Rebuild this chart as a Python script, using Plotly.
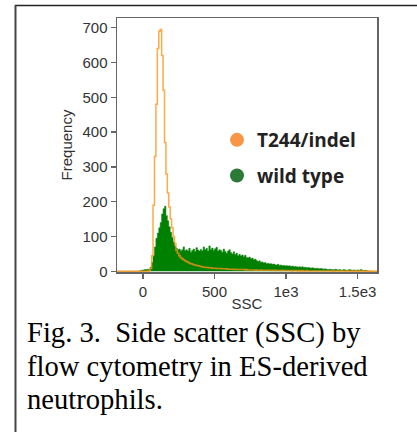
import plotly.graph_objects as go

# ---- data: histogram counts, bins of width 10 starting at -200 ----
BIN_START = -200
BIN_WIDTH = 10

t244_indel = [
    0, 0, 0, 0, 0, 0, 0, 0, 0, 0,            # -200..-110
    0, 0, 0, 0, 0, 0, 0, 0, 0, 0,            # -100..-10
    0, 0, 0, 1, 2, 8, 45, 190, 330, 480,     # 0..90
    640, 690, 695, 620, 520, 370, 280, 225, 185, 150,   # 100..190
    125, 100, 80, 60, 52, 45, 40, 36, 33, 30,           # 200..290
    28, 26, 24, 22, 21, 19, 18, 17, 16, 15,             # 300..390
    14, 13, 12, 12, 11, 11, 10, 10, 9, 9,               # 400..490
    9, 8, 8, 8, 8, 7, 7, 7, 7, 6,                       # 500..590
    6, 6, 6, 5, 6, 5, 5, 5, 5, 5,                       # 600..690
    5, 4, 5, 4, 4, 4, 4, 4, 3, 4,                       # 700..790
    3, 3, 4, 3, 3, 3, 3, 3, 3, 2,                       # 800..890
    3, 2, 3, 2, 2, 2, 2, 3, 2, 2,                       # 900..990
    2, 2, 2, 2, 1, 2, 2, 2, 1, 2,                       # 1000..1090
    1, 2, 1, 1, 2, 1, 1, 1, 1, 1,                       # 1100..1190
    1, 1, 1, 1, 1, 1, 1, 1, 1, 1,                       # 1200..1290
    1, 1, 1, 0, 1, 1, 1, 0, 1, 1,                       # 1300..1390
    1, 0, 1, 1, 0, 1, 0, 1, 0, 1,                       # 1400..1490
    0, 1, 0, 1, 0, 0, 1, 0, 0, 1,                       # 1500..1590
    0, 0, 0, 0, 0, 0, 0, 0, 0, 0,                       # 1600..1690
]

wild_type = [
    0, 0, 0, 0, 0, 0, 0, 0, 0, 0,            # -200..-110
    0, 0, 0, 0, 0, 0, 0, 1, 2, 3,            # -100..-10
    4, 5, 5, 6, 6, 12, 25, 45, 70, 95,       # 0..90
    110, 125, 140, 165, 180, 187, 160, 145, 128, 112,   # 100..190
    97, 84, 72, 66, 62, 64, 58, 62, 70, 60,             # 200..290
    62, 58, 66, 55, 60, 64, 57, 68, 61, 58,             # 300..390
    63, 59, 70, 62, 66, 58, 73, 62, 67, 60,             # 400..490
    65, 69, 58, 62, 60, 55, 64, 57, 52, 58,             # 500..590
    62, 54, 50, 56, 48, 52, 45, 49, 44, 47,             # 600..690
    42, 46, 40, 38, 41, 36, 38, 33, 35, 31,             # 700..790
    28, 30, 26, 27, 24, 25, 22, 23, 21, 22,             # 800..890
    20, 21, 19, 18, 20, 17, 18, 16, 17, 16,             # 900..990
    16, 15, 16, 14, 15, 13, 14, 13, 12, 13,             # 1000..1090
    12, 13, 11, 12, 10, 11, 10, 9, 10, 9,               # 1100..1190
    8, 9, 8, 7, 8, 7, 6, 7, 6, 5,                       # 1200..1290
    6, 5, 5, 4, 6, 5, 4, 5, 3, 4,                       # 1300..1390
    5, 4, 3, 4, 5, 4, 3, 4, 3, 3,                       # 1400..1490
    4, 3, 5, 3, 2, 3, 2, 1, 1, 0,                       # 1500..1590
    0, 0, 0, 0, 0, 0, 0, 0, 0, 0,                       # 1600..1690
]

series_names = ["T244/indel", "wild type"]
x_tick_values = [0, 500, 1000, 1500]
x_tick_labels = ["0", "500", "1e3", "1.5e3"]
y_tick_values = [0, 100, 200, 300, 400, 500, 600, 700]
caption_lines = [
    "Fig. 3.\u00a0 Side scatter (SSC) by",
    "flow cytometry in ES-derived",
    "neutrophils.",
]

bin_centers = [BIN_START + BIN_WIDTH * (i + 0.5) for i in range(len(wild_type))]

# ---- layout helpers (pixel -> paper) ----
W, H = 417, 432
ML, MR, MT, MB = 117, 40, 18, 160
PW, PH = W - ML - MR, H - MT - MB


def px_x(px):
    return (px - ML) / PW


def px_y(py):
    return (H - MB - py) / PH


fig = go.Figure()

fig.add_trace(go.Scatter(
    x=bin_centers, y=wild_type, mode="lines", line_shape="hvh",
    line=dict(color="#008000", width=0.5), fill="tozeroy", fillcolor="#008000",
    showlegend=False, hoverinfo="skip"))

fig.add_trace(go.Scatter(
    x=bin_centers, y=t244_indel, mode="lines", line_shape="hvh",
    line=dict(color="rgba(255,145,20,0.78)", width=1.5),
    showlegend=False, hoverinfo="skip"))

# legend entries
fig.add_trace(go.Scatter(
    x=[None], y=[None], mode="markers", name="<b>%s</b>" % series_names[0],
    legendgroup="a", marker=dict(color="#F79646", size=14, symbol="circle")))
fig.add_trace(go.Scatter(
    x=[None], y=[None], mode="markers", name="<b>%s</b>" % series_names[1],
    legendgroup="b", marker=dict(color="#2B7A37", size=14, symbol="circle")))

axis_line = "#666666"
tick_font = dict(family="Liberation Sans, Arial, sans-serif", size=15, color="#333333")

fig.update_xaxes(
    range=[-182, 1636], showgrid=False, zeroline=False,
    showline=True, mirror=True, linecolor=axis_line, linewidth=1.5,
    ticks="outside", ticklen=5, tickwidth=1.5, tickcolor=axis_line,
    tickvals=x_tick_values, ticktext=x_tick_labels, tickfont=tick_font,
    title=dict(text="SSC", font=tick_font, standoff=0))
fig.update_yaxes(
    range=[-2, 728], showgrid=False, zeroline=False,
    showline=True, mirror=True, linecolor=axis_line, linewidth=1.5,
    ticks="outside", ticklen=5, tickwidth=1.5, tickcolor=axis_line,
    tickvals=y_tick_values, tickfont=tick_font,
    title=dict(text="Frequency", font=tick_font, standoff=6))

shapes = [
    dict(type="line", xref="paper", yref="paper", x0=px_x(15), x1=px_x(430),
         y0=px_y(5.5), y1=px_y(5.5), line=dict(color="#222222", width=1.5)),
    dict(type="line", xref="paper", yref="paper", x0=px_x(15.5), x1=px_x(15.5),
         y0=px_y(5), y1=px_y(440), line=dict(color="#444444", width=2)),
]

annotations = []
baselines = [342, 375, 408]
for text, base in zip(caption_lines, baselines):
    annotations.append(dict(
        text=text, xref="paper", yref="paper", x=px_x(25), y=px_y(base - 9),
        xanchor="left", yanchor="middle", showarrow=False,
        font=dict(family="Liberation Serif, Times New Roman, serif", size=28.6, color="#000000")))

fig.update_layout(
    width=W, height=H,
    margin=dict(l=ML, r=MR, t=MT, b=MB, pad=0),
    paper_bgcolor="white", plot_bgcolor="white",
    shapes=shapes, annotations=annotations,
    showlegend=True,
    legend=dict(
        x=px_x(217), y=px_y(121), xanchor="left", yanchor="top",
        bgcolor="rgba(0,0,0,0)", borderwidth=0,
        traceorder="grouped", tracegroupgap=8,
        font=dict(family="Open Sans, sans-serif", size=19, color="#222222")),
)

fig.write_html("out.html",
               config={"displayModeBar": False, "staticPlot": True},
               post_script="document.body.style.margin='0';document.body.style.overflow='hidden';")
